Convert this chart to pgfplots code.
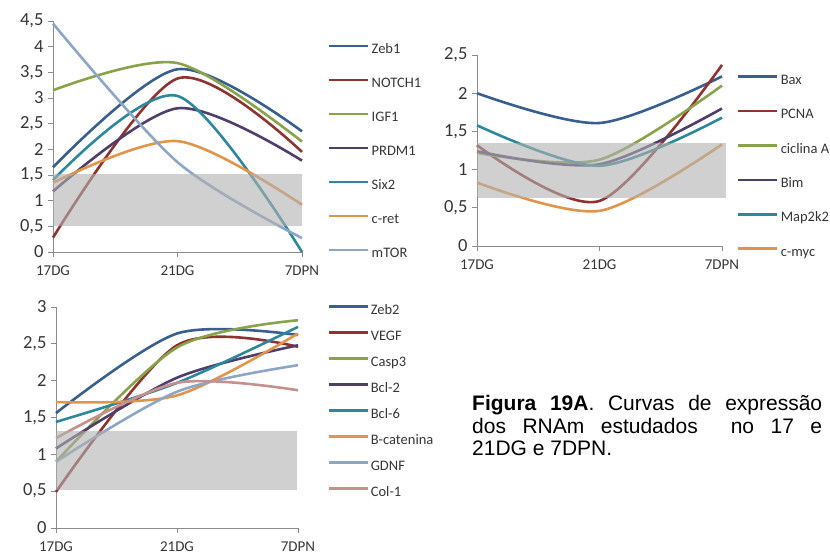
\documentclass[border=0pt]{standalone}
\usepackage{pgfplots}
\pgfplotsset{compat=1.18}
\usepackage{fontspec}
\setmainfont{Carlito}
\newfontfamily\capfont{Liberation Sans}

\definecolor{cBlue}{HTML}{385F8E}
\definecolor{cRed}{HTML}{8F3331}
\definecolor{cGreen}{HTML}{88A34A}
\definecolor{cPurple}{HTML}{4F3D6B}
\definecolor{cTeal}{HTML}{2E889C}
\definecolor{cOrange}{HTML}{E2954A}
\definecolor{cLBlue}{HTML}{8EA6C6}
\definecolor{cPink}{HTML}{C6908E}
\definecolor{axisgray}{HTML}{8C8C8C}
\definecolor{ticktext}{HTML}{363636}
\definecolor{bandgray}{HTML}{B0B0B0}

\pgfplotsset{
  panel/.style={
    scale only axis,
    xmin=0, xmax=2, ymin=0,
    axis x line*=bottom, axis y line*=left,
    axis line style={draw=axisgray, line width=0.8pt},
    tick style={draw=axisgray, line width=0.8pt},
    tick align=outside, major tick length=5pt,
    xtick={0,1,2}, xticklabels={17DG,21DG,7DPN},
    xticklabel style={font=\fontsize{15}{15}\selectfont, text=ticktext, yshift=-5pt},
    yticklabel style={font=\fontsize{18.5}{18.5}\selectfont, text=ticktext, xshift=-1pt},
    /pgf/number format/use comma,
    /pgf/number format/assume math mode=true,
    clip=false,
    every axis plot/.append style={smooth, line width=2.6pt, mark=none},
    legend cell align=left,
    legend image code/.code={\draw[##1, line width=2.6pt] (0pt,4pt) -- (39pt,4pt);},
    legend style={draw=none, fill=none, anchor=north west, inner sep=0pt,
      font=\fontsize{14.5}{14.5}\selectfont, text=ticktext,
      nodes={inner sep=0pt, text height=10pt, text depth=3pt},
      /tikz/every odd column/.style={column sep=2pt}},
  },
}

\begin{document}
\begin{tikzpicture}
\useasboundingbox (0pt,0pt) rectangle (830pt,557pt);

% Panel 1: transcription and growth factors
\begin{axis}[panel, at={(53pt,305pt)}, anchor=south west,
  width=249pt, height=231pt, ymax=4.5,
  ytick={0,0.5,1,1.5,2,2.5,3,3.5,4,4.5},
  legend style={at={(1.104,0.903)}, row sep=21pt}]
\addplot[cBlue]   coordinates {(0,1.65) (1,3.56) (2,2.35)};
\addplot[cRed]    coordinates {(0,0.28) (1,3.38) (2,1.95)};
\addplot[cGreen]  coordinates {(0,3.15) (1,3.68) (2,2.15)};
\addplot[cPurple] coordinates {(0,1.18) (1,2.80) (2,1.78)};
\addplot[cTeal]   coordinates {(0,1.40) (1,3.04) (2,0.00)};
\addplot[cOrange] coordinates {(0,1.35) (1,2.16) (2,0.92)};
\addplot[cLBlue]  coordinates {(0,4.45) (1,1.75) (2,0.27)};
\fill[bandgray, fill opacity=0.6] (axis cs:0,0.5) rectangle (axis cs:2,1.52);
\legend{Zeb1,NOTCH1,IGF1,PRDM1,Six2,c-ret,mTOR}
\end{axis}

% Panel 2: apoptosis and cell cycle
\begin{axis}[panel, at={(477pt,311pt)}, anchor=south west,
  width=245pt, height=191pt, ymax=2.5,
  ytick={0,0.5,1,1.5,2,2.5},
  legend style={at={(1.061,0.9005)}, row sep=21.4pt}]
\addplot[cBlue]   coordinates {(0,2.00) (1,1.61) (2,2.22)};
\addplot[cRed]    coordinates {(0,1.32) (1,0.59) (2,2.37)};
\addplot[cGreen]  coordinates {(0,1.22) (1,1.13) (2,2.10)};
\addplot[cPurple] coordinates {(0,1.24) (1,1.07) (2,1.80)};
\addplot[cTeal]   coordinates {(0,1.58) (1,1.05) (2,1.68)};
\addplot[cOrange] coordinates {(0,0.83) (1,0.46) (2,1.33)};
\fill[bandgray, fill opacity=0.6] (axis cs:0,0.63) rectangle (axis cs:2.03,1.35);
\legend{Bax,PCNA,ciclina A,Bim,Map2k2,c-myc}
\end{axis}

% Panel 3: differentiation and survival
\begin{axis}[panel, at={(56pt,29pt)}, anchor=south west,
  width=242pt, height=221pt, ymax=3,
  ytick={0,0.5,1,1.5,2,2.5,3},
  legend style={at={(1.12,1.0136)}, row sep=13pt}]
\addplot[cBlue]   coordinates {(0,1.56) (1,2.64) (2,2.62)};
\addplot[cRed]    coordinates {(0,0.49) (1,2.48) (2,2.46)};
\addplot[cGreen]  coordinates {(0,0.90) (1,2.45) (2,2.82)};
\addplot[cPurple] coordinates {(0,1.08) (1,2.04) (2,2.48)};
\addplot[cTeal]   coordinates {(0,1.44) (1,1.97) (2,2.73)};
\addplot[cOrange] coordinates {(0,1.71) (1,1.80) (2,2.64)};
\addplot[cLBlue]  coordinates {(0,0.90) (1,1.85) (2,2.21)};
\addplot[cPink]   coordinates {(0,1.22) (1,1.97) (2,1.87)};
\fill[bandgray, fill opacity=0.6] (axis cs:0,0.52) rectangle (axis cs:1.99,1.32);
\legend{Zeb2,VEGF,Casp3,Bcl-2,Bcl-6,B-catenina,GDNF,Col-1}
\end{axis}

\node[anchor=base west, text width=350pt, align=justify, inner sep=0pt,
  font=\capfont\fontsize{21}{22.5}\selectfont] at (472pt,146.3pt)
  {\textbf{Figura 19A}. Curvas de expressão\linebreak dos RNAm estudados\ \ no 17 e\linebreak 21DG e 7DPN.};
\end{tikzpicture}
\end{document}
